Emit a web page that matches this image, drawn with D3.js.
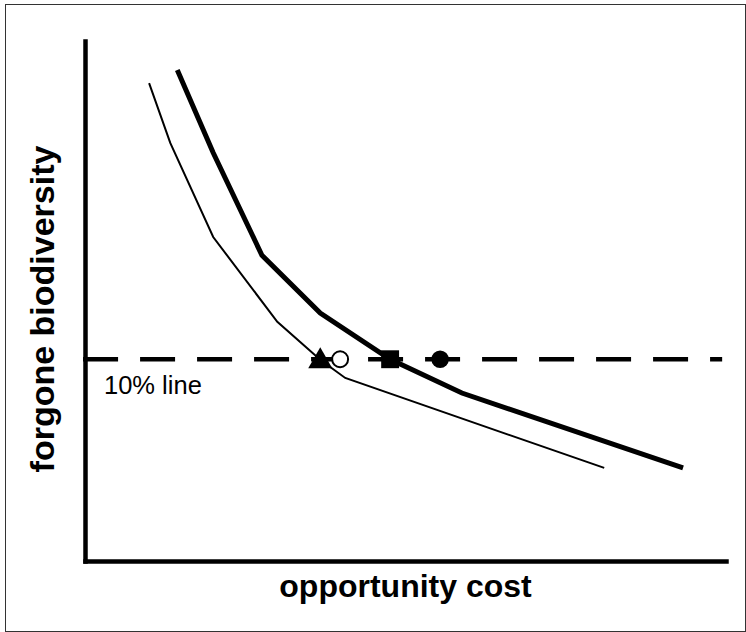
<!DOCTYPE html>
<html>
<head>
<meta charset="utf-8">
<script src="https://cdn.jsdelivr.net/npm/d3@7"></script>
<style>
  body { margin: 0; background: #fff; }
  svg { display: block; font-family: "Liberation Sans", Arial, sans-serif; }
</style>
</head>
<body>
<svg id="chart"></svg>
<script>
const width = 746;
const height = 632;

// curves in abstract units (0..100 on both axes)
const thickX = [14.4, 20.0, 27.6, 36.7, 47.6, 58.8, 93.3];
const thickY = [94.4, 78.5, 58.8, 47.7, 38.8, 32.3, 17.9];
const thinX = [10.0, 13.3, 20.0, 30.0, 36.7, 40.6, 81.0];
const thinY = [91.9, 80.4, 62.3, 46.0, 38.7, 35.2, 17.9];

const lineLevel = 38.8;
const lineLabel = "10% line";
const markerX = [36.7, 39.8, 47.6, 55.4];
const markerType = ["triangle", "openCircle", "square", "circle"];

const xLabel = "opportunity cost";
const yLabel = "forgone biodiversity";

const x = d3.scaleLinear().domain([0, 100]).range([85, 726]);
const y = d3.scaleLinear().domain([0, 100]).range([561, 41]);

const svg = d3.select("#chart")
  .attr("width", width)
  .attr("height", height)
  .attr("viewBox", [0, 0, width, height]);

// frame
svg.append("rect")
  .attr("x", 5.5).attr("y", 4.5)
  .attr("width", 740).attr("height", 627)
  .attr("fill", "none")
  .attr("stroke", "#333")
  .attr("stroke-width", 1);

// axes: bare heavy lines, no ticks
const xAxis = svg.append("g")
  .attr("transform", `translate(0,${y(0)})`)
  .call(d3.axisBottom(x).ticks(0).tickSizeOuter(0));
const yAxis = svg.append("g")
  .attr("transform", `translate(${x(0)},0)`)
  .call(d3.axisLeft(y).ticks(0).tickSizeOuter(0));
[xAxis, yAxis].forEach(a => a.select(".domain")
  .attr("stroke", "#000")
  .attr("stroke-width", 4.5)
  .attr("stroke-linecap", "square"));

const line = d3.line().x(d => x(d[0])).y(d => y(d[1]));

// dashed reference line
svg.append("line")
  .attr("x1", x(-0.3)).attr("x2", x(99.4))
  .attr("y1", y(lineLevel)).attr("y2", y(lineLevel))
  .attr("stroke", "#000")
  .attr("stroke-width", 4.5)
  .attr("stroke-dasharray", "35,22");

svg.append("path")
  .datum(d3.zip(thinX, thinY))
  .attr("fill", "none")
  .attr("stroke", "#000")
  .attr("stroke-width", 2)
  .attr("d", line);

svg.append("path")
  .datum(d3.zip(thickX, thickY))
  .attr("fill", "none")
  .attr("stroke", "#000")
  .attr("stroke-width", 5)
  .attr("d", line);

// markers on the line
const sym = {
  triangle: d3.symbol(d3.symbolTriangle, 250),
  square: d3.symbol(d3.symbolSquare, 320),
  circle: d3.symbol(d3.symbolCircle, 240),
  openCircle: d3.symbol(d3.symbolCircle, 200)
};
svg.selectAll(".marker")
  .data(d3.zip(markerX, markerType))
  .join("path")
  .attr("class", "marker")
  .attr("transform", d => `translate(${x(d[0])},${y(lineLevel) + (d[1] === "triangle" ? 2 : 0)})`)
  .attr("d", d => sym[d[1]]())
  .attr("fill", d => d[1] === "openCircle" ? "#fff" : "#000")
  .attr("stroke", "#000")
  .attr("stroke-width", d => d[1] === "openCircle" ? 2 : 0);

svg.append("text")
  .attr("x", 104)
  .attr("y", y(lineLevel) + 35)
  .attr("font-size", 25.5)
  .text(lineLabel);

svg.append("text")
  .attr("x", (x(0) + x(100)) / 2)
  .attr("y", 597)
  .attr("text-anchor", "middle")
  .attr("font-size", 32)
  .attr("font-weight", "bold")
  .text(xLabel);

svg.append("text")
  .attr("transform", `translate(54,${(y(0) + y(100)) / 2 + 8}) rotate(-90)`)
  .attr("text-anchor", "middle")
  .attr("font-size", 34)
  .attr("font-weight", "bold")
  .text(yLabel);
</script>
</body>
</html>
